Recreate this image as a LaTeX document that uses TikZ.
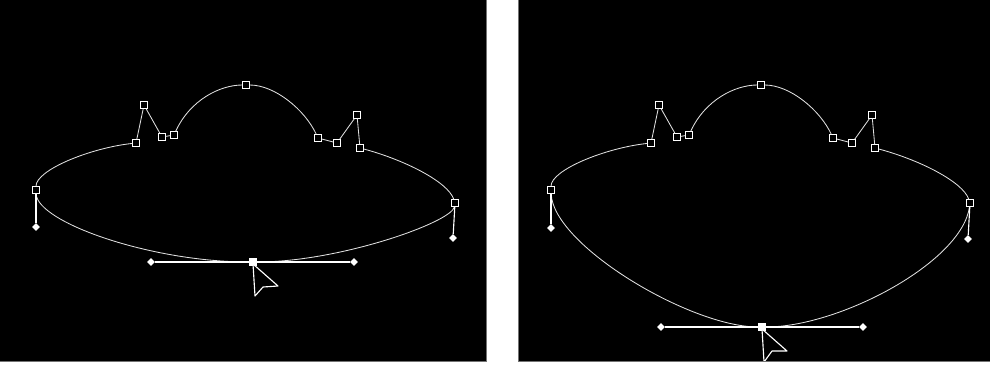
\documentclass[tikz,border=0pt]{standalone}
\usepackage{tikz}
\usetikzlibrary{shapes.geometric}

\tikzset{
  anchorpt/.style={draw=white, fill=black, rectangle, inner sep=0pt, minimum size=0.17cm, line width=0.5pt},
  selpt/.style={anchorpt, fill=white},
  handlept/.style={fill=white, diamond, inner sep=0pt, minimum size=0.2cm},
  pathline/.style={draw=white!88!black, line width=0.6pt},
  handleline/.style={draw=white, line width=0.8pt},
  cursorline/.style={draw=white, fill=black, line width=0.8pt, line join=round},
}

\begin{document}
\begin{tikzpicture}[x=0.025cm, y=-0.025cm]
    \useasboundingbox (0,0) rectangle (990,364);
    \fill[white] (0,0) rectangle (990,364);
    \filldraw[fill=black, draw=black!55] (-2,-2) rectangle (486,361);
    \filldraw[fill=black, draw=black!55] (518,-2) rectangle (992,361);

    % Left panel: flat saucer
    \node (l1) at (36,190) [anchorpt] {};
    \node (l2) at (136,143) [anchorpt] {};
    \node (l3) at (144,105) [anchorpt] {};
    \node (l4) at (162,137) [anchorpt] {};
    \node (l5) at (174,135) [anchorpt] {};
    \node (l6) at (246,85) [anchorpt] {};
    \node (l7) at (318,138) [anchorpt] {};
    \node (l8) at (337,143) [anchorpt] {};
    \node (l9) at (357,115) [anchorpt] {};
    \node (l10) at (360,148) [anchorpt] {};
    \node (l11) at (455,203) [anchorpt] {};
    \node (lb) at (253,262) [selpt] {};
    \node (lh1) at (36,227) [handlept] {};
    \node (lh2) at (453,238) [handlept] {};
    \node (lh3) at (151,262) [handlept] {};
    \node (lh4) at (354,262) [handlept] {};
    \draw[pathline] (l1) .. controls (36,170) and (90,148) .. (l2) -- (l3) -- (l4) -- (l5)
        .. controls (190,100) and (220,85) .. (l6) .. controls (275,85) and (305,110) .. (l7)
        -- (l8) -- (l9) -- (l10) .. controls (405,160) and (448,182) .. (l11)
        .. controls (452,222) and (340,262) .. (lb) .. controls (150,262) and (37,222) .. (l1);
    \draw[handleline] (l1) -- (lh1);
    \draw[handleline] (l11) -- (lh2);
    \draw[handleline] (lh3) -- (lb) -- (lh4);
    \draw[cursorline] (253,264) -- (255,296) -- (263,287) -- (278,286) -- cycle;

    % Right panel: bottom point dragged down
    \node (r1) at (551,190) [anchorpt] {};
    \node (r2) at (651,143) [anchorpt] {};
    \node (r3) at (659,105) [anchorpt] {};
    \node (r4) at (677,137) [anchorpt] {};
    \node (r5) at (689,135) [anchorpt] {};
    \node (r6) at (761,85) [anchorpt] {};
    \node (r7) at (833,138) [anchorpt] {};
    \node (r8) at (852,143) [anchorpt] {};
    \node (r9) at (872,115) [anchorpt] {};
    \node (r10) at (875,148) [anchorpt] {};
    \node (r11) at (970,203) [anchorpt] {};
    \node (rb) at (762,327) [selpt] {};
    \node (rh1) at (551,228) [handlept] {};
    \node (rh2) at (968,239) [handlept] {};
    \node (rh3) at (661,327) [handlept] {};
    \node (rh4) at (863,327) [handlept] {};
    \draw[pathline] (r1) .. controls (551,170) and (605,148) .. (r2) -- (r3) -- (r4) -- (r5)
        .. controls (705,100) and (735,85) .. (r6) .. controls (790,85) and (820,110) .. (r7)
        -- (r8) -- (r9) -- (r10) .. controls (920,160) and (963,182) .. (r11)
        .. controls (962,262) and (840,327) .. (rb) .. controls (690,327) and (553,245) .. (r1);
    \draw[handleline] (r1) -- (rh1);
    \draw[handleline] (r11) -- (rh2);
    \draw[handleline] (rh3) -- (rb) -- (rh4);
    \begin{scope}
        \clip (518,0) rectangle (990,360);
        \draw[cursorline] (762,329) -- (764,362) -- (772,351) -- (787,351) -- cycle;
    \end{scope}
\end{tikzpicture}
\end{document}
